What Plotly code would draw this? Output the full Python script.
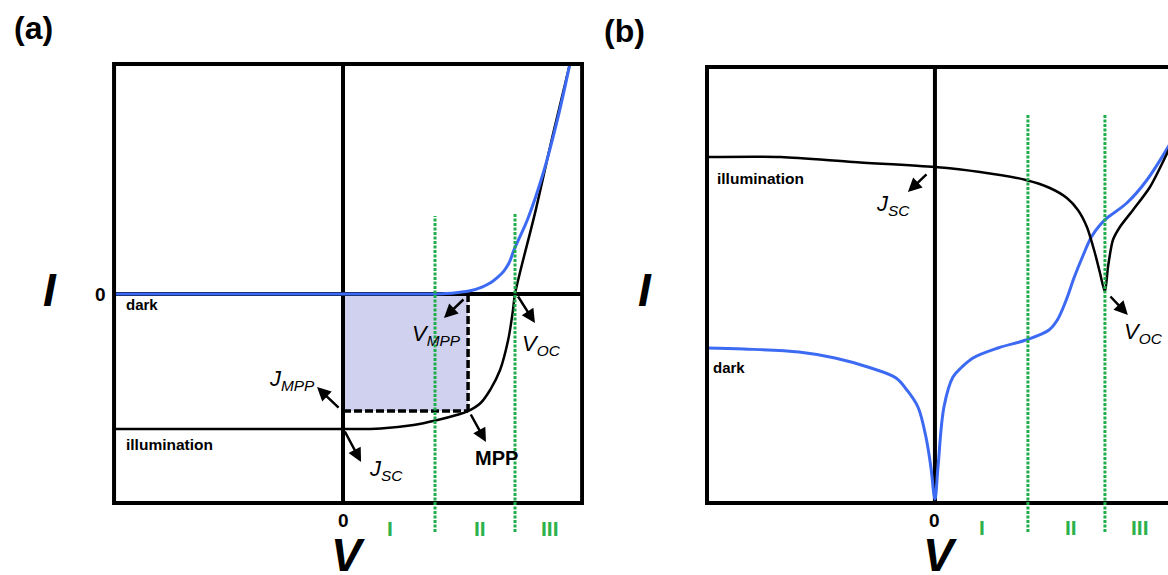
import plotly.graph_objects as go

FONT = "Liberation Sans, Arial, sans-serif"
BLUE = "#3d6af2"
GREEN = "#1fae4b"
GREEN_TXT = "#2bb24c"
SHADE = "#cfd1ee"

# ---------------- panel (a): linear I-V curves ----------------
V_dark_a = [-1.33, -0.25, 0.50, 0.60, 0.67, 0.74, 0.808, 0.86, 0.895, 0.935, 0.965, 0.995,
            1.075, 1.165, 1.25, 1.32]
I_dark_a = [0.0, 0.0, 0.0, 0.004, 0.012, 0.025, 0.052, 0.085, 0.119, 0.17, 0.23, 0.33,
            0.56, 0.90, 1.31, 1.71]

V_ill_a = [-1.33, 0.0, 0.22, 0.41, 0.55, 0.66, 0.727, 0.80, 0.855, 0.913, 0.96, 0.988, 1.0, 1.12, 1.22, 1.32]
I_ill_a = [-1.0, -1.0, -0.995, -0.97, -0.933, -0.896, -0.867, -0.807, -0.711, -0.563, -0.341, -0.119, 0.0, 0.62, 1.18, 1.71]

V_MPP, J_MPP = 0.727, -0.867
V_OC_a = 1.0
bounds_a = [0.535, 1.0]           # region I | II | III borders
regions = ["I", "II", "III"]
region_pos_a = [0.273, 0.797, 1.203]

# ---------------- panel (b): semi-log curves ----------------
V_ill_b = [-1.341, -0.906, -0.482, 0.0, 0.265, 0.535, 0.676, 0.776, 0.841, 0.894, 0.941, 0.971,
           1.0, 1.018, 1.047, 1.088, 1.165, 1.265, 1.40]
L_ill_b = [3.46, 3.46, 3.41, 3.36, 3.31, 3.23, 3.15, 3.05, 2.93, 2.76, 2.50, 2.30,
           2.11, 2.36, 2.63, 2.76, 2.93, 3.16, 3.62]

V_dark_b = [-1.341, -1.124, -0.80, -0.588, -0.376, -0.229, -0.165, -0.10, -0.053, -0.024, 0.0,
            0.018, 0.053, 0.106, 0.159, 0.224, 0.371, 0.535, 0.671, 0.72, 0.77, 0.82, 0.87,
            0.92, 0.971, 1.012, 1.129, 1.247, 1.40]
L_dark_b = [1.55, 1.54, 1.51, 1.45, 1.35, 1.25, 1.13, 0.96, 0.66, 0.36, 0.04,
            0.36, 0.96, 1.26, 1.36, 1.45, 1.55, 1.63, 1.73, 1.83, 2.02, 2.26, 2.47,
            2.66, 2.78, 2.85, 3.00, 3.23, 3.64]

V_OC_b = 1.0
bounds_b = [0.547, 1.0]
region_pos_b = [0.276, 0.80, 1.206]

# frame extents of each panel (data units)
BOX_A = dict(v=(-1.331, 1.39), i=(-1.548, 1.704))
BOX_B = dict(v=(-1.341, 1.50), i=(0.0, 4.36))

fig = go.Figure()

smooth = dict(shape="spline", smoothing=1.0)

# panel (a) traces
fig.add_trace(go.Scatter(x=V_ill_a, y=I_ill_a, mode="lines", xaxis="x", yaxis="y",
                         line=dict(color="black", width=2.5, **smooth), hoverinfo="skip"))
fig.add_trace(go.Scatter(x=V_dark_a, y=I_dark_a, mode="lines", xaxis="x", yaxis="y",
                         line=dict(color=BLUE, width=3, **smooth), hoverinfo="skip"))

# panel (b) traces
fig.add_trace(go.Scatter(x=V_dark_b, y=L_dark_b, mode="lines", xaxis="x2", yaxis="y2",
                         line=dict(color=BLUE, width=3, **smooth), hoverinfo="skip"))
fig.add_trace(go.Scatter(x=V_ill_b, y=L_ill_b, mode="lines", xaxis="x2", yaxis="y2",
                         line=dict(color="black", width=2.5, shape="spline", smoothing=0.7),
                         hoverinfo="skip"))

shapes = []
# power rectangle under the MPP
shapes.append(dict(type="rect", xref="x", yref="y", x0=0, x1=V_MPP, y0=J_MPP, y1=0,
                   fillcolor=SHADE, line=dict(width=0), layer="below"))
# axes through the origin
shapes.append(dict(type="line", xref="x", yref="y", x0=0, x1=0, y0=BOX_A["i"][0], y1=BOX_A["i"][1],
                   line=dict(color="black", width=4), layer="below"))
shapes.append(dict(type="line", xref="x", yref="y", x0=BOX_A["v"][0], x1=BOX_A["v"][1], y0=0, y1=0,
                   line=dict(color="black", width=4), layer="below"))
shapes.append(dict(type="line", xref="x2", yref="y2", x0=0, x1=0, y0=BOX_B["i"][0], y1=BOX_B["i"][1],
                   line=dict(color="black", width=4), layer="below"))
# dashed MPP guides
shapes.append(dict(type="line", xref="x", yref="y", x0=V_MPP, x1=V_MPP, y0=0, y1=J_MPP,
                   line=dict(color="black", width=3.5, dash="8px,3px")))
shapes.append(dict(type="line", xref="x", yref="y", x0=0, x1=V_MPP, y0=J_MPP, y1=J_MPP,
                   line=dict(color="black", width=3.5, dash="8px,3px")))
# frames
shapes.append(dict(type="rect", xref="x", yref="y", x0=BOX_A["v"][0], x1=BOX_A["v"][1],
                   y0=BOX_A["i"][0], y1=BOX_A["i"][1], line=dict(color="black", width=4)))
shapes.append(dict(type="path", xref="x2", yref="y2",
                   path=(f"M {BOX_B['v'][1]} {BOX_B['i'][1]} L {BOX_B['v'][0]} {BOX_B['i'][1]} "
                         f"L {BOX_B['v'][0]} {BOX_B['i'][0]} L {BOX_B['v'][1]} {BOX_B['i'][0]}"),
                   line=dict(color="black", width=4)))
# region borders (green dotted)
for xr, yr, bnds, tops, bottom in [("x", "y", bounds_a, [0.578, 0.60], -1.763),
                                   ("x2", "y2", bounds_b, [3.88, 3.88], -0.29)]:
    for b, t in zip(bnds, tops):
        shapes.append(dict(type="line", xref=xr, yref=yr, x0=b, x1=b, y0=bottom, y1=t,
                           line=dict(color=GREEN, width=3, dash="3px,1.5px")))

annotations = []


def text(xr, yr, x, y, s, size, color="black", xanchor="center", yanchor="middle"):
    annotations.append(dict(xref=xr, yref=yr, x=x, y=y, text=s, showarrow=False,
                            xanchor=xanchor, yanchor=yanchor,
                            font=dict(family=FONT, size=size, color=color)))


def arrow(xr, yr, tail, head):
    annotations.append(dict(xref=xr, yref=yr, axref=xr, ayref=yr, x=head[0], y=head[1],
                            ax=tail[0], ay=tail[1], text="", showarrow=True, arrowhead=2,
                            arrowsize=1.1, arrowwidth=2.5, arrowcolor="black",
                            standoff=0, startstandoff=0))


def sub(main, s):
    return f"<i>{main}</i><sub><i>{s}</i></sub>"


# ---- panel (a) labels ----
text("x", "y", -1.802, 1.97, "<b>(a)</b>", 32)
text("x", "y", -1.703, 0.03, "<b><i>I</i></b>", 46)
text("x", "y", 0.029, -1.93, "<b><i>V</i></b>", 46)
text("x", "y", -1.407, -0.007, "<b>0</b>", 19)
text("x", "y", 0.0, -1.674, "<b>0</b>", 19)
for r, p in zip(regions, region_pos_a):
    text("x", "y", p, -1.733, f"<b>{r}</b>", 21, color=GREEN_TXT)
text("x", "y", -1.273, -0.081, "<b>dark</b>", 15, xanchor="left")
text("x", "y", -1.273, -1.111, "<b>illumination</b>", 15.5, xanchor="left")
text("x", "y", 0.541, -0.304, sub("V", "MPP"), 22)
text("x", "y", 1.151, -0.378, sub("V", "OC"), 22)
text("x", "y", -0.297, -0.637, sub("J", "MPP"), 22)
text("x", "y", 0.25, -1.304, sub("J", "SC"), 22)
text("x", "y", 0.895, -1.215, "<b>MPP</b>", 20)
arrow("x", "y", (0.709, -0.030), (0.587, -0.178))
arrow("x", "y", (1.012, -0.007), (1.116, -0.215))
arrow("x", "y", (0.738, -0.881), (0.831, -1.096))
arrow("x", "y", (-0.017, -0.852), (-0.151, -0.689))
arrow("x", "y", (0.006, -1.007), (0.105, -1.244))

# ---- panel (b) labels ----
text("x2", "y2", -1.824, 4.72, "<b>(b)</b>", 32)
text("x2", "y2", -1.706, 2.13, "<b><i>I</i></b>", 46)
text("x2", "y2", 0.03, -0.52, "<b><i>V</i></b>", 46)
text("x2", "y2", 0.0, -0.17, "<b>0</b>", 19)
for r, p in zip(regions, region_pos_b):
    text("x2", "y2", p, -0.24, f"<b>{r}</b>", 21, color=GREEN_TXT)
text("x2", "y2", -1.294, 3.25, "<b>illumination</b>", 15.5, xanchor="left")
text("x2", "y2", -1.318, 1.36, "<b>dark</b>", 15, xanchor="left")
text("x2", "y2", -0.247, 2.98, sub("J", "SC"), 22)
text("x2", "y2", 1.229, 1.70, sub("V", "OC"), 22)
arrow("x2", "y2", (-0.041, 3.30), (-0.159, 3.11))
arrow("x2", "y2", (1.024, 2.08), (1.135, 1.88))

hidden = dict(visible=False, fixedrange=True)
fig.update_layout(
    width=1168, height=575,
    margin=dict(l=0, r=0, t=0, b=0),
    paper_bgcolor="white", plot_bgcolor="white",
    showlegend=False,
    xaxis=dict(domain=[0, 0.5], range=[-1.994, 1.401], anchor="y", **hidden),
    yaxis=dict(domain=[0, 1], range=[-2.081, 2.178], anchor="x", **hidden),
    xaxis2=dict(domain=[0.52, 1], range=[-1.927, 1.371], anchor="y2", **hidden),
    yaxis2=dict(domain=[0, 1], range=[-0.72, 5.03], anchor="x2", **hidden),
    shapes=shapes,
    annotations=annotations,
)

fig.write_html("out.html")
